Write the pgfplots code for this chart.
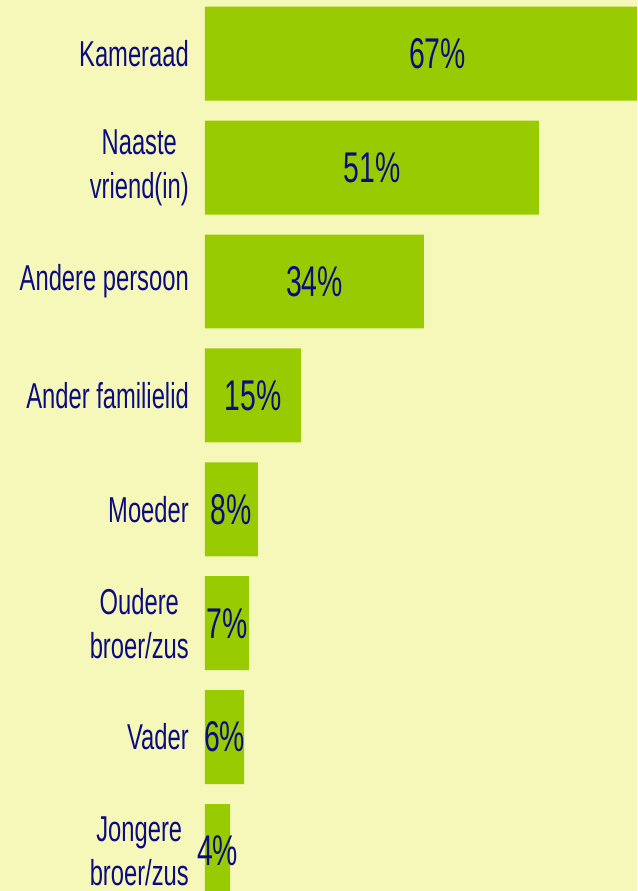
\documentclass[border=0pt]{standalone}
\usepackage{pgfplots}
\pgfplotsset{compat=1.18}
\usepackage{fontspec}
\setmainfont[FakeStretch=0.66]{Liberation Sans}
\definecolor{bg}{RGB}{246,248,186}
\definecolor{barg}{RGB}{153,204,0}
\definecolor{ink}{RGB}{12,12,128}
\begin{document}
\begin{tikzpicture}
\fill[bg] (-205pt,0) rectangle (432pt,891pt);
\begin{axis}[
  at={(0,0)}, anchor=south west,
  scale only axis, width=432pt, height=891pt,
  xmin=0, xmax=67, ymin=-0.4715, ymax=7.351, y dir=reverse,
  axis line style={draw=none}, tick style={draw=none}, major tick length=0pt,
  xtick=\empty,
  ytick={0,...,7},
  yticklabels={Kameraad,{Naaste\\vriend(in)},Andere persoon,Ander familielid,Moeder,{Oudere\\broer/zus},Vader,{Jongere\\broer/zus}},
  yticklabel style={align=center, font=\fontsize{36}{44}\selectfont, text=ink, inner sep=0pt, xshift=-16pt},
]
\addplot[xbar, fill=barg, draw=none, bar width=0.825] coordinates {
  (67,0) (51.8,1) (33.95,2) (14.9,3) (8.2,4) (6.8,5) (6.05,6) (3.9,7)
};
\addplot[draw=none, mark=none, nodes near coords, point meta=explicit symbolic,
  nodes near coords style={anchor=center, inner sep=0pt, font=\fontsize{43}{50}\selectfont, text=ink}] coordinates {
  (36.05,0)[67\%] (25.9,1)[51\%] (16.98,2)[34\%] (7.45,3)[15\%] (4.1,4)[8\%] (3.4,5)[7\%] (3.03,6)[6\%] (1.95,7)[4\%]
};
\end{axis}
\pgfresetboundingbox
\path (-205pt,0) rectangle (432pt,891pt);
\end{tikzpicture}
\end{document}
